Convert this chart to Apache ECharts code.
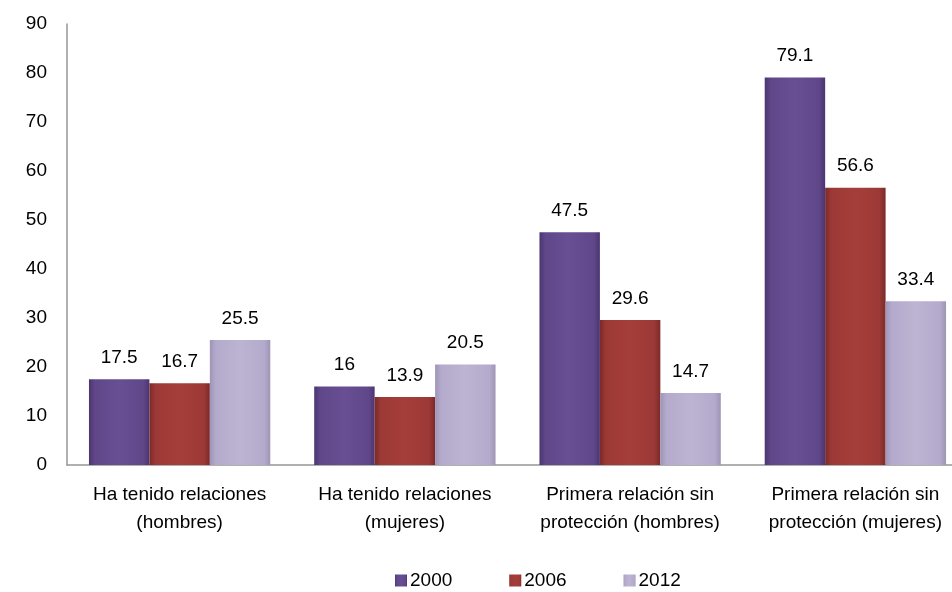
<!DOCTYPE html>
<html>
<head>
<meta charset="utf-8">
<script src="https://cdn.jsdelivr.net/npm/echarts@6/dist/echarts.min.js"></script>
<style>html,body{margin:0;padding:0;background:#fff}#c{width:952px;height:592px}</style>
</head>
<body>
<div id="c"></div>
<script>
const categories = ["Ha tenido relaciones\n(hombres)", "Ha tenido relaciones\n(mujeres)", "Primera relación sin\nprotección (hombres)", "Primera relación sin\nprotección (mujeres)"];
const seriesNames = ["2000", "2006", "2012"];
const values2000 = [17.5, 16, 47.5, 79.1];
const values2006 = [16.7, 13.9, 29.6, 56.6];
const values2012 = [25.5, 20.5, 14.7, 33.4];
const yTicks = [0, 10, 20, 30, 40, 50, 60, 70, 80, 90];

const FONT = '"Liberation Sans", Arial, sans-serif';
const FS = 19;

function grad(edge, mid, light) {
  return new echarts.graphic.LinearGradient(0, 0, 1, 0, [
    {offset: 0, color: edge},
    {offset: 0.1, color: mid},
    {offset: 0.5, color: light},
    {offset: 0.9, color: mid},
    {offset: 1, color: edge}
  ]);
}
const fills = [
  grad('#4a3570', '#60478a', '#684e93'),
  grad('#7a2a28', '#9c3936', '#a53e3a'),
  grad('#9e94b6', '#b4aacb', '#bdb3d3')
];
const allValues = [values2000, values2006, values2012];

const chart = echarts.init(document.getElementById('c'), null, {renderer: 'canvas'});
chart.setOption({
  animation: false,
  backgroundColor: '#ffffff',
  grid: {left: 67, width: 901, top: 24, height: 441, containLabel: false, outerBoundsMode: 'none'},
  legend: {
    data: seriesNames,
    left: 395,
    top: 571,
    icon: 'rect',
    itemWidth: 12,
    itemHeight: 12,
    itemGap: 57,
    padding: 0,
    textStyle: {fontFamily: FONT, fontSize: FS, color: '#000', padding: [0, 0, 0, -2]}
  },
  xAxis: {
    type: 'category',
    data: categories,
    axisTick: {show: false},
    axisLine: {show: true, lineStyle: {color: '#969696', width: 1.5}},
    axisLabel: {fontFamily: FONT, fontSize: FS, color: '#000', lineHeight: 28, margin: 16, interval: 0}
  },
  yAxis: {
    type: 'value',
    min: yTicks[0],
    max: yTicks[yTicks.length - 1],
    interval: 10,
    splitLine: {show: false},
    axisTick: {show: false},
    axisLine: {show: true, lineStyle: {color: '#969696', width: 1.5}},
    axisLabel: {fontFamily: FONT, fontSize: FS, color: '#000', margin: 20}
  },
  series: seriesNames.map((name, i) => ({
    name: name,
    type: 'bar',
    data: allValues[i],
    barGap: '0%',
    barCategoryGap: '19.5%',
    itemStyle: {color: fills[i]},
    label: {show: true, position: 'top', distance: 12, fontFamily: FONT, fontSize: FS, color: '#000'}
  }))
});
</script>
</body>
</html>
